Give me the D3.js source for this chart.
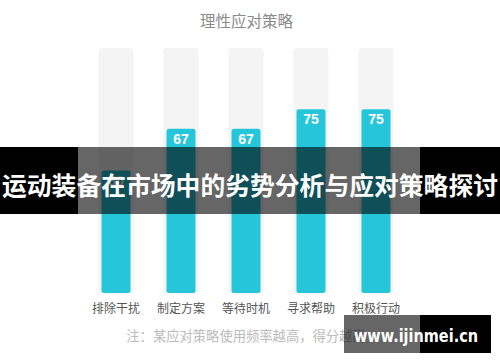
<!DOCTYPE html>
<html><head><meta charset="utf-8">
<script src="https://cdn.jsdelivr.net/npm/d3@7"></script>
<style>html,body{margin:0;padding:0;background:#fff;}svg{display:block;}</style>
</head><body>
<script>
const categories = ["排除干扰", "制定方案", "等待时机", "寻求帮助", "积极行动"];
const values = [50, 67, 67, 75, 75];
const chartTitle = "理性应对策略";
const note = "注：某应对策略使用频率越高，得分越高";
const bannerTitle = "运动装备在市场中的劣势分析与应对策略探讨";
const watermark = "www.ijinmei.cn";

const W = 500, H = 362;
const font = "'Noto Sans CJK SC', 'Noto Sans', sans-serif";
const svg = d3.select("body").append("svg").attr("width", W).attr("height", H);

const x = d3.scaleBand().domain(categories).range([83.5, 408.5]).paddingInner(0.4615).paddingOuter(0.2308);
const y = d3.scaleLinear().domain([0, 100]).range([293, 48]);
const barW = 29;

svg.append("text").attr("x", 246.5).attr("y", 27).attr("text-anchor", "middle")
  .attr("font-family", font).attr("font-size", 15.5).attr("fill", "#8a8a8a").text(chartTitle);

svg.selectAll("rect.bg").data(categories).join("rect").attr("class", "bg")
  .attr("x", d => x(d)).attr("width", x.bandwidth())
  .attr("y", y(100)).attr("height", y(0) - y(100))
  .attr("rx", 3).attr("fill", "#f4f4f4");

const g = svg.selectAll("g.bar").data(values).join("g").attr("class", "bar");
g.append("rect")
  .attr("x", (d, i) => x(categories[i]) + x.bandwidth() / 2 - barW / 2)
  .attr("width", barW)
  .attr("y", d => y(d)).attr("height", d => y(0) - y(d))
  .attr("rx", 2.5).attr("fill", "#26c6da");
g.append("text")
  .attr("x", (d, i) => x(categories[i]) + x.bandwidth() / 2)
  .attr("y", d => y(d) + 15)
  .attr("text-anchor", "middle").attr("font-family", "'Liberation Sans', Arial, sans-serif")
  .attr("font-size", 14).attr("font-weight", "bold").attr("fill", "#fff")
  .text(d => d);

svg.selectAll("text.cat").data(categories).join("text").attr("class", "cat")
  .attr("x", d => x(d) + x.bandwidth() / 2).attr("y", 313)
  .attr("text-anchor", "middle").attr("font-family", font).attr("font-size", 12)
  .attr("fill", "#555").text(d => d);

svg.append("text").attr("x", 246).attr("y", 341).attr("text-anchor", "middle")
  .attr("font-family", font).attr("font-size", 13.3).attr("fill", "#bbb").text(note);

// banner overlay
svg.append("rect").attr("x", 0).attr("y", 147).attr("width", 78).attr("height", 67).attr("fill", "#000");
svg.append("rect").attr("x", 420).attr("y", 147).attr("width", 80).attr("height", 67).attr("fill", "#000");
svg.append("rect").attr("x", 78).attr("y", 147).attr("width", 342).attr("height", 67).attr("fill", "rgba(0,0,0,0.6)");
svg.append("text").attr("x", 250).attr("y", 195).attr("text-anchor", "middle")
  .attr("font-family", font).attr("font-size", 24.8).attr("font-weight", "bold")
  .attr("fill", "#fff").attr("textLength", 496).attr("lengthAdjust", "spacingAndGlyphs").text(bannerTitle);

// watermark
svg.append("rect").attr("x", 344).attr("y", 315).attr("width", 76).attr("height", 38).attr("fill", "rgba(0,0,0,0.6)");
svg.append("rect").attr("x", 420).attr("y", 315).attr("width", 71).attr("height", 38).attr("fill", "#000");
svg.append("text").attr("x", 354).attr("y", 342)
  .attr("font-family", "'DejaVu Sans', sans-serif").attr("font-size", 18).attr("font-weight", "bold")
  .attr("fill", "#fff").attr("textLength", 124).attr("lengthAdjust", "spacingAndGlyphs").text(watermark);
</script>
</body></html>
